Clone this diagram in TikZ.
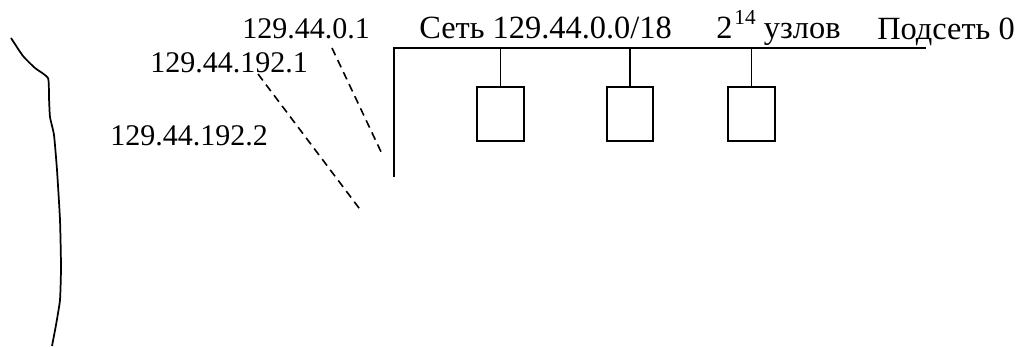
\documentclass[tikz,border=0pt]{standalone}
\usepackage{fontspec}
\setmainfont{Liberation Serif}
\begin{document}
\begin{tikzpicture}[x=0.75pt,y=-0.75pt,
  wire/.style={line width=1.5pt},
  drop/.style={line width=1.2pt},
  link/.style={line width=1.2pt, dash pattern=on 6pt off 4pt},
  host/.style={draw, line width=1.5pt, minimum width=35pt, minimum height=40.5pt,
               inner sep=0pt, outer sep=0pt, anchor=north},
  lbl/.style={inner sep=0pt, anchor=base west, font=\fontsize{22.5}{27}\selectfont},
  head/.style={inner sep=0pt, anchor=base west, font=\fontsize{24.3}{29}\selectfont}]
\useasboundingbox (0,0) rectangle (1016,346);

% network segment: riser and bus
\coordinate (busbot) at (394,177);
\coordinate (bend) at (394,48);
\coordinate (busend) at (926,48);
\draw[wire] (busbot) -- (bend) -- (busend);

% hosts hanging off the bus
\foreach \i/\x in {1/500.5,2/630,3/751.5}{
  \node[host] (h\i) at (\x,86.5) {};
  \coordinate (t\i) at (\x,48);
  \draw[drop] (t\i) -- (h\i.north);
}

% labels
\node[lbl] (gw0) at (242,39) {129.44.0.1};
\node[lbl] (gw1) at (150,73) {129.44.192.1};
\node[lbl] (gw2) at (110,145) {129.44.192.2};
\node[head] (net) at (419,39) {Сеть 129.44.0.0/18};
\node[head] (cnt) at (716,39) {2\hspace{1.5pt}\raisebox{11pt}{\fontsize{16}{16}\selectfont 14} узлов};
\node[head] (sub) at (877,40) {Подсеть 0};

% router interfaces (dashed)
\coordinate (a1) at (332,48);
\coordinate (a2) at (383,156);
\draw[link] (a1) -- (a2);
\coordinate (b1) at (258,74);
\coordinate (b2) at (362,212);
\draw[link] (b1) -- (b2);

% backbone curve on the left
\draw[wire, line width=1.3pt] plot[smooth, tension=0.3] coordinates
  {(11,38) (23,56) (35,68) (48,78) (49,98) (50,117) (54,135) (57,170) (60,220) (61,267) (60,300) (56,325) (52,346)};
\end{tikzpicture}
\end{document}
